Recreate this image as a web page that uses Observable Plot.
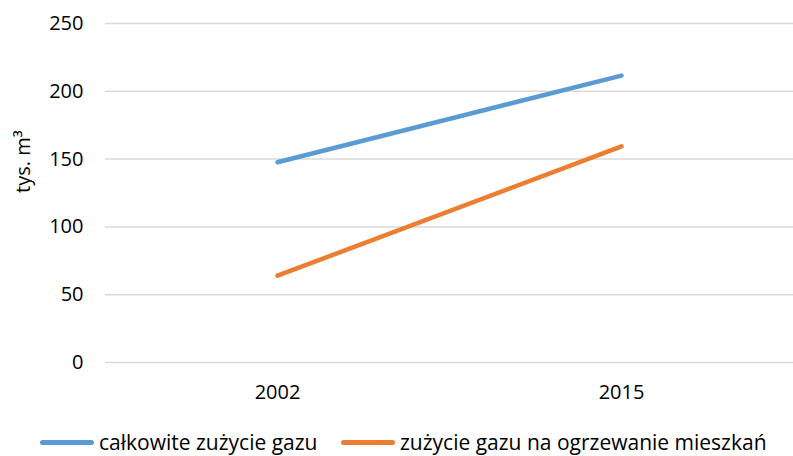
<!DOCTYPE html>
<html><head><meta charset="utf-8">
<script src="https://cdn.jsdelivr.net/npm/d3@7"></script>
<script src="https://cdn.jsdelivr.net/npm/@observablehq/plot@0.6"></script>
<style>
body{margin:0;background:#fff;font-family:"Open Sans",sans-serif;overflow:hidden;}
#wrap{position:relative;width:793px;height:456px;overflow:hidden;}
#legend{position:absolute;left:0;top:428px;width:793px;height:28px;font-size:21px;line-height:28px;color:#000;}
.item{position:absolute;top:0;display:flex;align-items:center;height:28px;white-space:nowrap;}
.sw{width:54px;height:5px;border-radius:3px;margin-right:5px;}
</style></head>
<body><div id="wrap"><div id="chart"></div><div id="legend"></div></div>
<script>
const years = ["2002", "2015"];
const seriesNames = ["całkowite zużycie gazu", "zużycie gazu na ogrzewanie mieszkań"];
const totalGas = [147.7, 211.6];
const heatingGas = [64.0, 159.4];
const yTicks = [0, 50, 100, 150, 200, 250];
const colors = ["#5b9bd5", "#ed7d31"];

const data = [];
[totalGas, heatingGas].forEach((vals, si) => {
  years.forEach((y, i) => data.push({year: y, value: vals[i], series: seriesNames[si]}));
});

const chart = Plot.plot({
  width: 793,
  height: 428,
  marginTop: 23,
  marginBottom: 66,
  marginLeft: 105,
  marginRight: 0,
  style: {fontFamily: "Open Sans, sans-serif", fontSize: "20px", color: "#000", overflow: "visible"},
  x: {type: "point", domain: years, padding: 0.5, label: null},
  y: {domain: [0, 250], label: null},
  color: {domain: seriesNames, range: colors},
  marks: [
    Plot.gridY(yTicks, {stroke: "#d9d9d9", strokeOpacity: 1, strokeWidth: 1.5}),
    Plot.axisY(yTicks, {tickSize: 0, tickPadding: 22, fontSize: 20, label: null}),
    Plot.axisX({tickSize: 0, tickPadding: 22, fontSize: 20, label: null}),
    Plot.line(data, {x: "year", y: "value", z: "series", stroke: "series", strokeWidth: 4.5, strokeLinecap: "round"}),
    Plot.text(["tys. m³"], {frameAnchor: "left", dx: -82, rotate: -90, fontSize: 20, fill: "#000"})
  ]
});
document.getElementById("chart").appendChild(chart);

const legend = document.getElementById("legend");
const lefts = [40, 341];
seriesNames.forEach((n, i) => {
  const it = document.createElement("div");
  it.className = "item";
  it.style.left = lefts[i] + "px";
  const sw = document.createElement("div");
  sw.className = "sw";
  sw.style.background = colors[i];
  const t = document.createElement("span");
  t.textContent = n;
  it.appendChild(sw); it.appendChild(t);
  legend.appendChild(it);
});
</script></body></html>
